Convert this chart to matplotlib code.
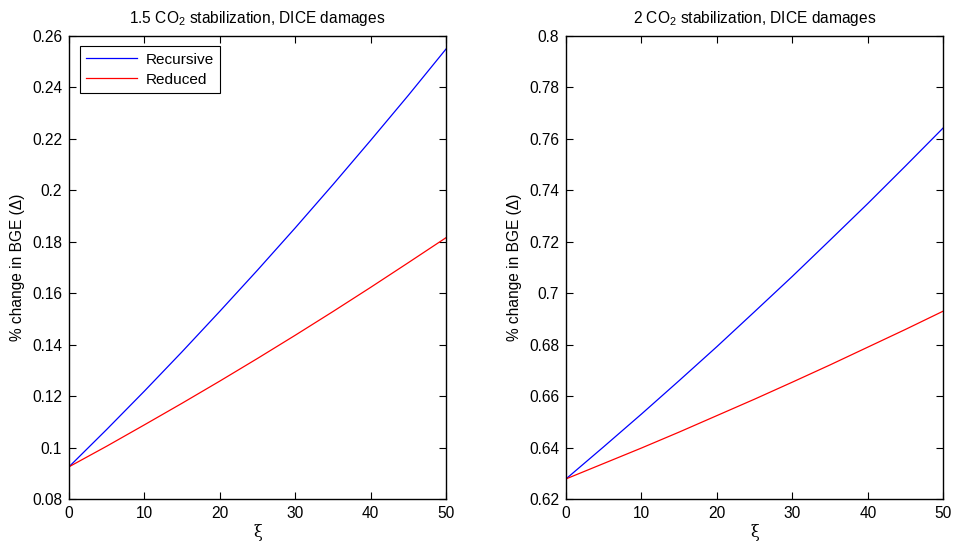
import matplotlib
matplotlib.use("Agg")
import matplotlib.pyplot as plt
from matplotlib.ticker import FuncFormatter

plt.rcParams["font.family"] = ["Liberation Sans", "DejaVu Sans"]
plt.rcParams["mathtext.fontset"] = "custom"
plt.rcParams["mathtext.rm"] = "Liberation Sans"
plt.rcParams["font.size"] = 11

# xi values shared by both panels
xi = [0, 5, 10, 15, 20, 25, 30, 35, 40, 45, 50]

# 1.5 CO2 stabilization
left_recursive = [0.0925, 0.1070, 0.1219, 0.1372, 0.1529, 0.1689, 0.1853, 0.2021, 0.2193, 0.2368, 0.2548]
left_reduced = [0.0925, 0.1005, 0.1088, 0.1172, 0.1258, 0.1346, 0.1436, 0.1528, 0.1622, 0.1718, 0.1815]

# 2 CO2 stabilization
right_recursive = [0.6278, 0.6403, 0.6530, 0.6660, 0.6792, 0.6928, 0.7065, 0.7206, 0.7348, 0.7494, 0.7642]
right_reduced = [0.6278, 0.6338, 0.6398, 0.6460, 0.6524, 0.6588, 0.6654, 0.6721, 0.6790, 0.6859, 0.6930]

left_ticks = [0.08, 0.1, 0.12, 0.14, 0.16, 0.18, 0.2, 0.22, 0.24, 0.26]
right_ticks = [0.62, 0.64, 0.66, 0.68, 0.7, 0.72, 0.74, 0.76, 0.78, 0.8]
x_ticks = [0, 10, 20, 30, 40, 50]

fig = plt.figure(figsize=(9.54, 5.46), dpi=100)
ax1 = fig.add_axes([0.0723, 0.0861, 0.3952, 0.8486])
ax2 = fig.add_axes([0.5933, 0.0861, 0.3955, 0.8486])

fmt = FuncFormatter(lambda v, p: "%g" % v)

panels = [
    (ax1, left_recursive, left_reduced, left_ticks, "1.5 CO$\\mathregular{_2}$ stabilization, DICE damages"),
    (ax2, right_recursive, right_reduced, right_ticks, "2 CO$\\mathregular{_2}$ stabilization, DICE damages"),
]

for ax, rec, red, yt, title in panels:
    ax.plot(xi, rec, color="blue", lw=0.9, label="Recursive")
    ax.plot(xi, red, color="red", lw=0.9, label="Reduced")
    ax.set_xlim(0, 50)
    ax.set_ylim(yt[0], yt[-1])
    ax.set_xticks(x_ticks)
    ax.set_yticks(yt)
    ax.yaxis.set_major_formatter(fmt)
    ax.tick_params(direction="in", top=True, right=True, length=5, width=0.8, labelsize=11.2, pad=5)
    for s in ax.spines.values():
        s.set_linewidth(1.0)
    ax.set_title(title, fontsize=11.2, pad=9)
    ax.set_xlabel("ξ", fontsize=11.5, labelpad=2, family=["DejaVu Serif"])
    ax.set_ylabel("% change in BGE (Δ)", fontsize=11.2, labelpad=5)

leg = ax1.legend(loc="upper left", fontsize=11.1, fancybox=False, framealpha=1,
                 edgecolor="black", borderaxespad=0.7, handlelength=3.3, borderpad=0.4,
                 labelspacing=0.4, handletextpad=0.6)
leg.get_frame().set_linewidth(0.8)

fig.savefig("out.png", dpi=100)
